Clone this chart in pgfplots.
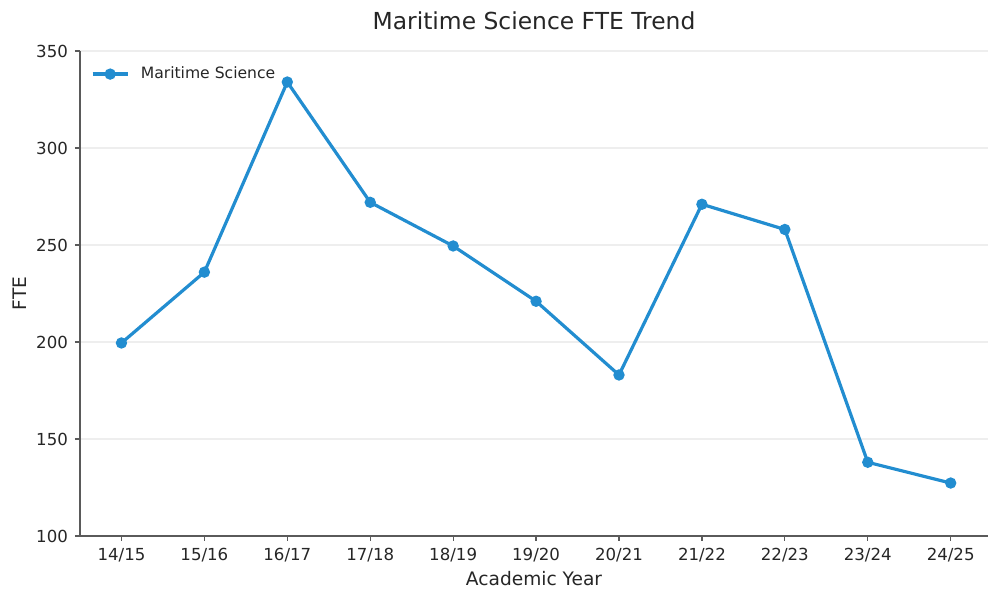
\documentclass[border=0pt]{standalone}
\usepackage{fontspec}
\setmainfont{DejaVu Sans}
\usepackage{pgfplots}
\pgfplotsset{compat=1.18}
\definecolor{lineblue}{RGB}{34,141,208}
\definecolor{spine}{RGB}{90,90,90}
\definecolor{gridc}{RGB}{238,238,238}
\begin{document}
\begin{tikzpicture}
\begin{axis}[
    name=main,
    scale only axis,
    width=454pt, height=242.5pt,
    xmin=-0.5, xmax=10.45,
    ymin=100, ymax=350,
    xtick={0,...,10},
    xticklabels={14/15,15/16,16/17,17/18,18/19,19/20,20/21,21/22,22/23,23/24,24/25},
    ytick={100,150,...,350},
    axis x line*=bottom, axis y line*=left,
    axis line style={spine, line width=0.6pt, -},
    major tick length=2.5pt,
    tick style={spine, line width=0.6pt},
    tick align=outside,
    ymajorgrids, grid style={gridc, line width=0.6pt},
    tick label style={font=\fontsize{8.3}{10}\selectfont, text=black!85},
    /pgf/number format/assume math mode=true,
    xlabel={Academic Year}, ylabel={FTE},
    label style={font=\fontsize{9.3}{11}\selectfont, text=black!85},
    xlabel style={yshift=2pt},
    ylabel style={yshift=-2pt},
    title={Maritime Science FTE Trend},
    title style={font=\fontsize{11.7}{13}\selectfont, text=black!85, yshift=1pt},
    legend style={at={(0.005,0.985)}, anchor=north west, draw=none, fill=none,
        font=\fontsize{7.8}{9}\selectfont, text=black!85},
    legend image code/.code={
        \draw[mark repeat=2, mark phase=2] plot coordinates {(0cm,0cm) (0.31cm,0cm) (0.62cm,0cm)};
        \path (0.75cm,0cm);
    },
    legend cell align=left,
]
\addplot[color=lineblue, line width=1.6pt, mark=*, mark size=2pt] coordinates {
    (0,199.5) (1,236) (2,334) (3,272) (4,249.5) (5,221)
    (6,183) (7,271) (8,258) (9,138) (10,127.3)
};
\addlegendentry{Maritime Science}
\end{axis}
\pgfresetboundingbox
\path ([shift={(-40pt,-28.5pt)}]main.south west) rectangle ++(495pt,296.5pt);
\end{tikzpicture}
\end{document}
